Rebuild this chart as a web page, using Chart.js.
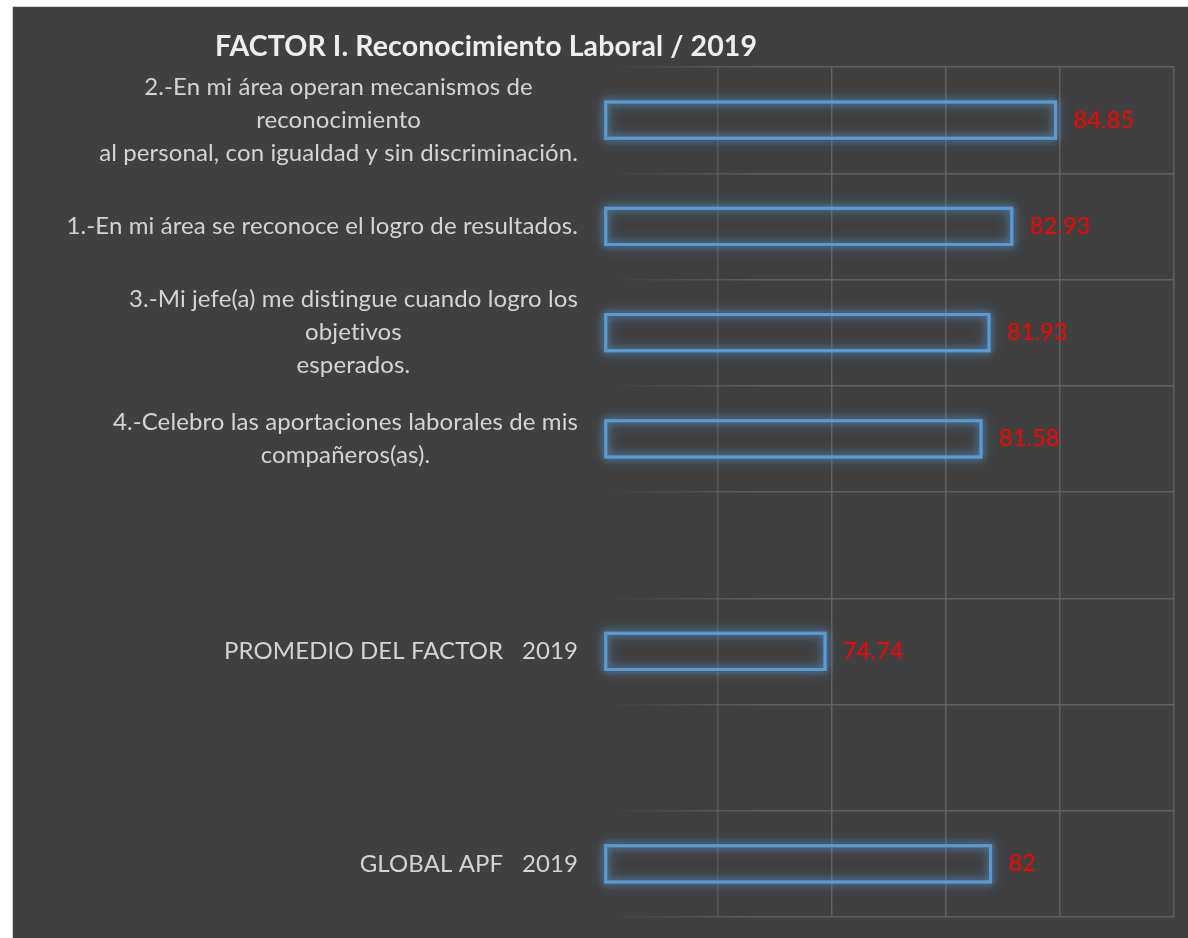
<!DOCTYPE html>
<html>
<head>
<meta charset="utf-8">
<script src="https://cdn.jsdelivr.net/npm/chart.js@4"></script>
<style>
	html, body { margin: 0; padding: 0; background: #ffffff; }
	#panel {
		position: absolute; left: 12px; top: 6px; width: 1176px; height: 932px;
		background: #404040; border-left: 1px solid #d6d6d6; border-top: 1px solid #d6d6d6;
	}
	#wrap { position: absolute; left: 0; top: 0; width: 1175px; height: 931px; }
</style>
</head>
<body>
<div id="panel"><div id="wrap"><canvas id="factorChart"></canvas></div></div>
<script>
// ---- data ----
const chartTitle = 'FACTOR I. Reconocimiento Laboral / 2019';

// one entry per row, each row is a list of text lines
const categories = [
	['2.-En mi área operan mecanismos de', 'reconocimiento', 'al personal, con igualdad y sin discriminación.'],
	['1.-En mi área se reconoce el logro de resultados.'],
	['3.-Mi jefe(a) me distingue cuando logro los', 'objetivos', 'esperados.'],
	['4.-Celebro las aportaciones laborales de mis', 'compañeros(as).'],
	[''],
	['PROMEDIO DEL FACTOR   2019'],
	[''],
	['GLOBAL APF   2019']
];

const values = [84.85, 82.93, 81.93, 81.58, null, 74.74, null, 82];

// value axis (no tick labels are shown, only the grid)
const axisMin = 65;
const axisMax = 90;
const axisStep = 5;

const FONT = 'Lato, "Open Sans", sans-serif';
const BAR_BLUE = '#5b9bd5';

// grid lines fade in from the left edge of the plot
function gridColor(context) {
	const chart = context.chart;
	const area = chart.chartArea;
	if (!area) return 'rgb(96,96,96)';
	const g = chart.ctx.createLinearGradient(area.left, 0, area.left + 160, 0);
	g.addColorStop(0, 'rgba(96,96,96,0)');
	g.addColorStop(1, 'rgba(96,96,96,1)');
	return g;
}

// blue glow behind each bar outline
const glowPlugin = {
	id: 'glow',
	beforeDatasetsDraw(chart) {
		const ctx = chart.ctx;
		const meta = chart.getDatasetMeta(0);
		ctx.save();
		ctx.shadowColor = 'rgba(91,155,213,1)';
		ctx.strokeStyle = 'rgba(91,155,213,0.8)';
		ctx.lineWidth = 3;
		meta.data.forEach((bar, i) => {
			if (values[i] == null) return;
			const p = bar.getProps(['x', 'y', 'base', 'height'], true);
			[14, 7].forEach(blur => {
				ctx.shadowBlur = blur;
				ctx.strokeRect(p.base + 1, p.y - p.height / 2 + 1, p.x - p.base - 2, p.height - 2);
			});
		});
		ctx.restore();
	}
};

// title, row labels and red value labels
const textPlugin = {
	id: 'texts',
	afterDraw(chart) {
		const ctx = chart.ctx;
		const area = chart.chartArea;
		const yScale = chart.scales.y;
		ctx.save();
		ctx.letterSpacing = '0.1px';

		ctx.fillStyle = '#eeeeee';
		ctx.font = 'bold 28.5px ' + FONT;
		ctx.textAlign = 'left';
		ctx.textBaseline = 'middle';
		ctx.fillText(chartTitle, 202, 40);

		ctx.font = '24px ' + FONT;
		ctx.fillStyle = '#d4d4d4';
		ctx.textAlign = 'center';
		const lineH = 33;
		const rightEdge = area.left - 26;
		categories.forEach((lines, i) => {
			const yc = yScale.getPixelForValue(i);
			let widest = 0;
			lines.forEach(t => { widest = Math.max(widest, ctx.measureText(t).width); });
			const cx = rightEdge - widest / 2;
			const y0 = yc - (lines.length - 1) * lineH / 2;
			lines.forEach((t, k) => ctx.fillText(t, cx, y0 + k * lineH));
		});

		ctx.font = '23.5px ' + FONT;
		ctx.fillStyle = '#ff0000';
		ctx.textAlign = 'left';
		chart.getDatasetMeta(0).data.forEach((bar, i) => {
			if (values[i] == null) return;
			ctx.fillText(String(values[i]), bar.x + 17, bar.y);
		});
		ctx.restore();
	}
};

const ctx = document.getElementById('factorChart').getContext('2d');
const chart = new Chart(ctx, {
	type: 'bar',
	data: {
		labels: categories,
		datasets: [{
			data: values,
			base: axisMin,
			backgroundColor: 'rgba(0,0,0,0)',
			borderColor: BAR_BLUE,
			borderWidth: 2,
			borderSkipped: false,
			categoryPercentage: 0.36,
			barPercentage: 1
		}]
	},
	options: {
		indexAxis: 'y',
		responsive: true,
		maintainAspectRatio: false,
		animation: false,
		layout: { padding: { top: 60, right: 14, bottom: 21, left: 0 } },
		plugins: {
			legend: { display: false },
			tooltip: { enabled: false }
		},
		scales: {
			x: {
				min: axisMin,
				max: axisMax,
				ticks: { display: false, stepSize: axisStep },
				grid: { color: gridColor, lineWidth: 1.5, drawTicks: false },
				border: { display: false },
				afterFit(s) { s.height = 0; }
			},
			y: {
				ticks: { display: false },
				grid: { color: gridColor, lineWidth: 1.5, drawTicks: false },
				border: { display: false },
				afterFit(s) { s.width = 591; }
			}
		}
	},
	plugins: [glowPlugin, textPlugin]
});
</script>
</body>
</html>
